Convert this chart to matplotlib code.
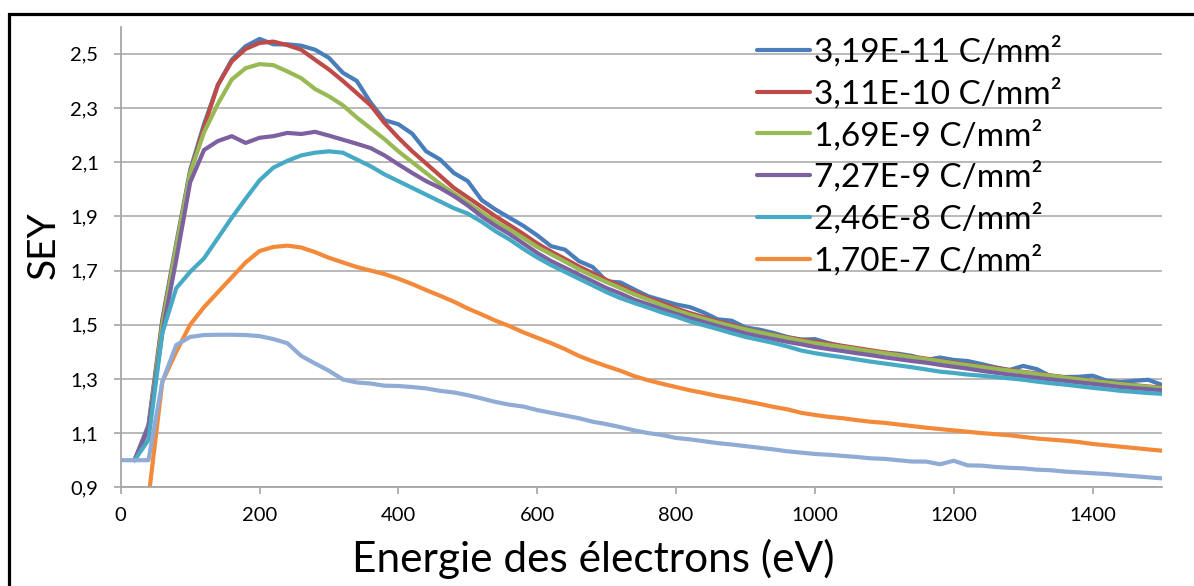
import numpy as np
import matplotlib
matplotlib.use("Agg")
import matplotlib.pyplot as plt
from matplotlib.patches import Rectangle

plt.rcParams['font.family'] = ['Lato', 'DejaVu Sans']

nan = np.nan
energy = list(range(0, 1501, 20))

s_319e11 = [nan, 1.0, 1.13, 1.52, 1.80, 2.07, 2.24, 2.385, 2.478, 2.528, 2.555, 2.535, 2.535, 2.53, 2.515, 2.485,
            2.43, 2.40, 2.32, 2.255, 2.24, 2.205, 2.14, 2.11, 2.06, 2.03, 1.96, 1.925, 1.895, 1.865, 1.83,
            1.79, 1.777, 1.735, 1.713, 1.66, 1.656, 1.63, 1.605, 1.59, 1.575, 1.565, 1.545, 1.52, 1.515, 1.49,
            1.482, 1.47, 1.455, 1.445, 1.447, 1.432, 1.42, 1.41, 1.402, 1.397, 1.393, 1.385, 1.37, 1.379, 1.37,
            1.366, 1.355, 1.343, 1.333, 1.348, 1.336, 1.309, 1.307, 1.308, 1.312, 1.294, 1.288, 1.293, 1.297, 1.278]
s_311e10 = [nan, 1.0, 1.12, 1.51, 1.79, 2.06, 2.23, 2.385, 2.472, 2.518, 2.54, 2.545, 2.532, 2.515, 2.478, 2.442,
            2.40, 2.355, 2.31, 2.245, 2.19, 2.14, 2.095, 2.05, 2.005, 1.97, 1.935, 1.90, 1.868, 1.835, 1.80,
            1.77, 1.743, 1.715, 1.69, 1.665, 1.643, 1.62, 1.598, 1.58, 1.56, 1.543, 1.528, 1.512, 1.50, 1.485,
            1.474, 1.463, 1.453, 1.445, 1.437, 1.43, 1.422, 1.414, 1.406, 1.398, 1.39, 1.382, 1.375, 1.368, 1.36,
            1.353, 1.346, 1.34, 1.333, 1.326, 1.32, 1.313, 1.306, 1.30, 1.293, 1.288, 1.282, 1.277, 1.272, 1.268]
s_169e9 = [nan, 1.0, 1.12, 1.50, 1.79, 2.06, 2.21, 2.315, 2.405, 2.447, 2.462, 2.458, 2.435, 2.41, 2.37, 2.343,
           2.31, 2.265, 2.225, 2.185, 2.14, 2.10, 2.06, 2.02, 1.985, 1.95, 1.915, 1.88, 1.852, 1.82, 1.787,
           1.76, 1.733, 1.705, 1.68, 1.657, 1.635, 1.612, 1.592, 1.572, 1.553, 1.537, 1.522, 1.508, 1.495, 1.483,
           1.472, 1.461, 1.451, 1.441, 1.432, 1.425, 1.418, 1.41, 1.402, 1.395, 1.388, 1.38, 1.373, 1.366, 1.358,
           1.351, 1.344, 1.337, 1.331, 1.325, 1.318, 1.312, 1.305, 1.299, 1.292, 1.287, 1.281, 1.276, 1.271, 1.266]
s_727e9 = [nan, 1.0, 1.12, 1.47, 1.74, 2.025, 2.145, 2.178, 2.196, 2.171, 2.19, 2.196, 2.208, 2.204, 2.212, 2.198,
           2.183, 2.168, 2.152, 2.125, 2.092, 2.06, 2.03, 2.005, 1.975, 1.94, 1.90, 1.865, 1.835, 1.80, 1.765,
           1.735, 1.71, 1.685, 1.66, 1.635, 1.615, 1.592, 1.575, 1.557, 1.54, 1.524, 1.51, 1.495, 1.482, 1.468,
           1.457, 1.447, 1.437, 1.428, 1.418, 1.41, 1.403, 1.395, 1.388, 1.38, 1.373, 1.366, 1.36, 1.352, 1.345,
           1.338, 1.33, 1.323, 1.316, 1.31, 1.304, 1.298, 1.293, 1.287, 1.282, 1.276, 1.27, 1.266, 1.262, 1.258]
s_246e8 = [nan, 1.0, 1.075, 1.47, 1.635, 1.695, 1.745, 1.82, 1.895, 1.965, 2.033, 2.08, 2.105, 2.125, 2.135, 2.14,
           2.135, 2.11, 2.085, 2.055, 2.03, 2.005, 1.98, 1.955, 1.93, 1.91, 1.88, 1.845, 1.815, 1.78, 1.748,
           1.72, 1.695, 1.67, 1.645, 1.62, 1.598, 1.58, 1.563, 1.545, 1.53, 1.512, 1.498, 1.484, 1.469, 1.455,
           1.444, 1.433, 1.42, 1.405, 1.395, 1.387, 1.38, 1.372, 1.364, 1.357, 1.35, 1.343, 1.335, 1.327, 1.322,
           1.316, 1.312, 1.307, 1.302, 1.297, 1.29, 1.284, 1.279, 1.273, 1.267, 1.262, 1.256, 1.252, 1.248, 1.245]
s_170e7 = [nan, nan, 0.86, 1.29, 1.40, 1.50, 1.565, 1.62, 1.675, 1.73, 1.772, 1.787, 1.792, 1.785, 1.768, 1.747,
           1.73, 1.713, 1.70, 1.687, 1.67, 1.65, 1.628, 1.607, 1.585, 1.56, 1.538, 1.515, 1.495, 1.472, 1.452,
           1.432, 1.41, 1.385, 1.365, 1.347, 1.33, 1.31, 1.295, 1.282, 1.27, 1.258, 1.248, 1.237, 1.228, 1.218,
           1.208, 1.197, 1.188, 1.175, 1.167, 1.16, 1.155, 1.148, 1.142, 1.138, 1.132, 1.126, 1.12, 1.115, 1.11,
           1.105, 1.10, 1.096, 1.092, 1.086, 1.08, 1.076, 1.072, 1.067, 1.06, 1.055, 1.05, 1.045, 1.04, 1.035]
s_ref = [1.0, 1.0, 1.0, 1.29, 1.425, 1.455, 1.462, 1.463, 1.463, 1.462, 1.458, 1.447, 1.432, 1.385, 1.357, 1.33,
         1.298, 1.287, 1.283, 1.275, 1.274, 1.27, 1.265, 1.256, 1.25, 1.24, 1.228, 1.215, 1.205, 1.198, 1.185,
         1.175, 1.165, 1.155, 1.142, 1.133, 1.122, 1.11, 1.10, 1.093, 1.082, 1.077, 1.07, 1.063, 1.058, 1.052,
         1.046, 1.04, 1.033, 1.028, 1.023, 1.02, 1.016, 1.012, 1.007, 1.005, 1.0, 0.995, 0.995, 0.985, 0.998,
         0.981, 0.98, 0.975, 0.972, 0.97, 0.965, 0.963, 0.958, 0.955, 0.952, 0.949, 0.945, 0.941, 0.937, 0.933]

labels = ["3,19E-11 C/mm²", "3,11E-10 C/mm²", "1,69E-9 C/mm²", "7,27E-9 C/mm²",
          "2,46E-8 C/mm²", "1,70E-7 C/mm²", None]
series = [s_319e11, s_311e10, s_169e9, s_727e9, s_246e8, s_170e7, s_ref]
colors = ["#4A7EBB", "#BE4B48", "#98B954", "#7D60A0", "#46AAC5", "#F38A3A", "#8FABD6"]

xticks = list(range(0, 1401, 200))
yticks = [0.9, 1.1, 1.3, 1.5, 1.7, 1.9, 2.1, 2.3, 2.5]

W, H = 1194, 586
fig = plt.figure(figsize=(W / 100, H / 100), dpi=100)
fig.patch.set_facecolor("white")
ax_left, ax_right, ax_top, ax_bot = 120.7, 1162.0, 26.7, 487.3
ax = fig.add_axes([ax_left / W, 1 - ax_bot / H, (ax_right - ax_left) / W, (ax_bot - ax_top) / H])
aw, ah = ax_right - ax_left, ax_bot - ax_top

for s, lab, c in zip(series, labels, colors):
    ax.plot(energy, s, color=c, lw=3.0, label=lab if lab else "_nolegend_",
            solid_joinstyle="round", solid_capstyle="round")

ax.set_xlim(0, 1500)
ax.set_ylim(0.9, 2.6)
ax.set_xticks(xticks)
ax.set_yticks(yticks)
ax.set_yticklabels([f"{v:.1f}".replace(".", ",") for v in yticks])
ax.grid(axis="y", color="#B3B3B3", lw=1.3)
ax.set_axisbelow(True)
for sp in ["top", "right"]:
    ax.spines[sp].set_visible(False)
for sp in ["left", "bottom"]:
    ax.spines[sp].set_color("#A6A6A6")
    ax.spines[sp].set_linewidth(1.3)
ax.tick_params(axis="both", colors="#A6A6A6", length=5, width=1.2, labelsize=14.5,
               labelcolor="black")
ax.tick_params(axis="y", pad=11)
ax.tick_params(axis="x", pad=9)

ax.set_xlabel("Energie des électrons (eV)", fontsize=30.5, va="baseline")
ax.xaxis.set_label_coords((593 - ax_left) / aw, (ax_bot - 571.7) / ah)
ax.set_ylabel("SEY", fontsize=28, va="baseline")
ax.yaxis.set_label_coords((55 - ax_left) / aw, (ax_bot - 245) / ah)

leg = fig.legend(loc="upper left", bbox_to_anchor=(757 / W, 1 - 36 / H), frameon=False,
                 fontsize=24, handlelength=1.6, handletextpad=0.12, labelspacing=0.31,
                 borderpad=0, borderaxespad=0)

fig.patches.append(Rectangle((8.5 / W, -0.1), 1.2, 1 - 13.5 / H + 0.1, transform=fig.transFigure,
                             fill=False, edgecolor="black", lw=2.3))

fig.savefig("out.png", dpi=100)
